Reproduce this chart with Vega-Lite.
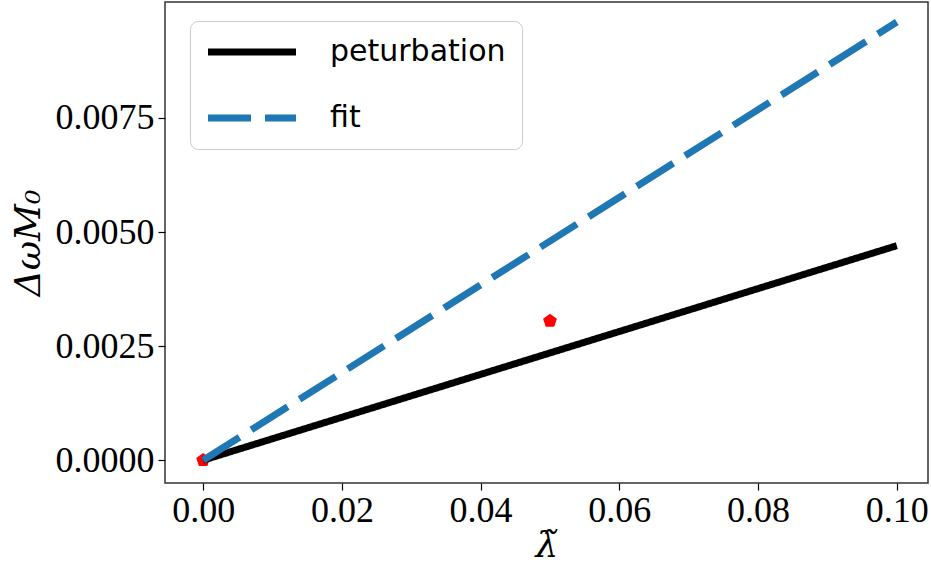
{
  "$schema": "https://vega.github.io/schema/vega-lite/v6.json",
  "width": 763,
  "height": 481,
  "autosize": {"type": "none"},
  "padding": {"left": 165, "top": 2, "right": 3, "bottom": 80},
  "background": "white",
  "config": {
    "view": {"stroke": "#333333", "strokeWidth": 1.5},
    "axis": {
      "grid": false,
      "domain": false,
      "tickColor": "black",
      "tickSize": 7,
      "tickWidth": 1.2,
      "labelFont": "Liberation Serif",
      "labelFontSize": 36,
      "labelColor": "black",
      "titleFont": "DejaVu Serif",
      "titleFontSize": 36,
      "titleFontWeight": "normal",
      "titleColor": "black"
    }
  },
  "datasets": {
    "lines": [
      {"lam": 0.0, "dw": 0.0, "series": "peturbation"},
      {"lam": 0.1, "dw": 0.0047, "series": "peturbation"},
      {"lam": 0.0, "dw": 0.0, "series": "fit"},
      {"lam": 0.1, "dw": 0.0096, "series": "fit"}
    ],
    "pts": [
      {"lam": 0.0, "dw": 0.0},
      {"lam": 0.05, "dw": 0.00305}
    ]
  },
  "layer": [
    {
      "data": {"name": "pts"},
      "mark": {"type": "point", "filled": true, "color": "red", "opacity": 1, "size": 210,
        "shape": "M0,-1L0.951,-0.309L0.588,0.809L-0.588,0.809L-0.951,-0.309Z"},
      "encoding": {
        "x": {"field": "lam", "type": "quantitative"},
        "y": {"field": "dw", "type": "quantitative"}
      }
    },
    {
      "data": {"name": "lines"},
      "mark": {"type": "line", "strokeWidth": 7, "clip": true},
      "encoding": {
        "x": {
          "field": "lam", "type": "quantitative",
          "scale": {"domain": [-0.0055, 0.1045], "nice": false, "zero": false},
          "axis": {"values": [0, 0.02, 0.04, 0.06, 0.08, 0.1], "format": ".2f", "title": "λ̃", "titleFontStyle": "italic", "titlePadding": 0, "labelPadding": 3}
        },
        "y": {
          "field": "dw", "type": "quantitative",
          "scale": {"domain": [-0.0005, 0.01004], "nice": false, "zero": false},
          "axis": {"values": [0, 0.0025, 0.005, 0.0075], "format": ".4f", "title": "ΔωM₀", "titleFontStyle": "italic", "titlePadding": 8, "labelPadding": 4}
        },
        "color": {
          "field": "series", "type": "nominal",
          "scale": {"domain": ["peturbation", "fit"], "range": ["black", "#1f77b4"]},
          "legend": {
            "title": null,
            "orient": "none",
            "legendX": 25,
            "legendY": 19,
            "symbolType": "M-1.3,0H7.5",
            "symbolSize": 400,
            "symbolStrokeWidth": 7,
            "labelFont": "DejaVu Sans",
            "labelFontSize": 30,
            "labelColor": "black",
            "labelLimit": 400,
            "labelOffset": 94,
            "rowPadding": 36,
            "padding": 16,
            "fillColor": "white",
            "strokeColor": "#cccccc",
            "cornerRadius": 8
          }
        },
        "strokeDash": {
          "field": "series", "type": "nominal",
          "scale": {"domain": ["peturbation", "fit"], "range": [[1, 0], [43, 14]]},
          "legend": null
        }
      }
    }
  ]
}
